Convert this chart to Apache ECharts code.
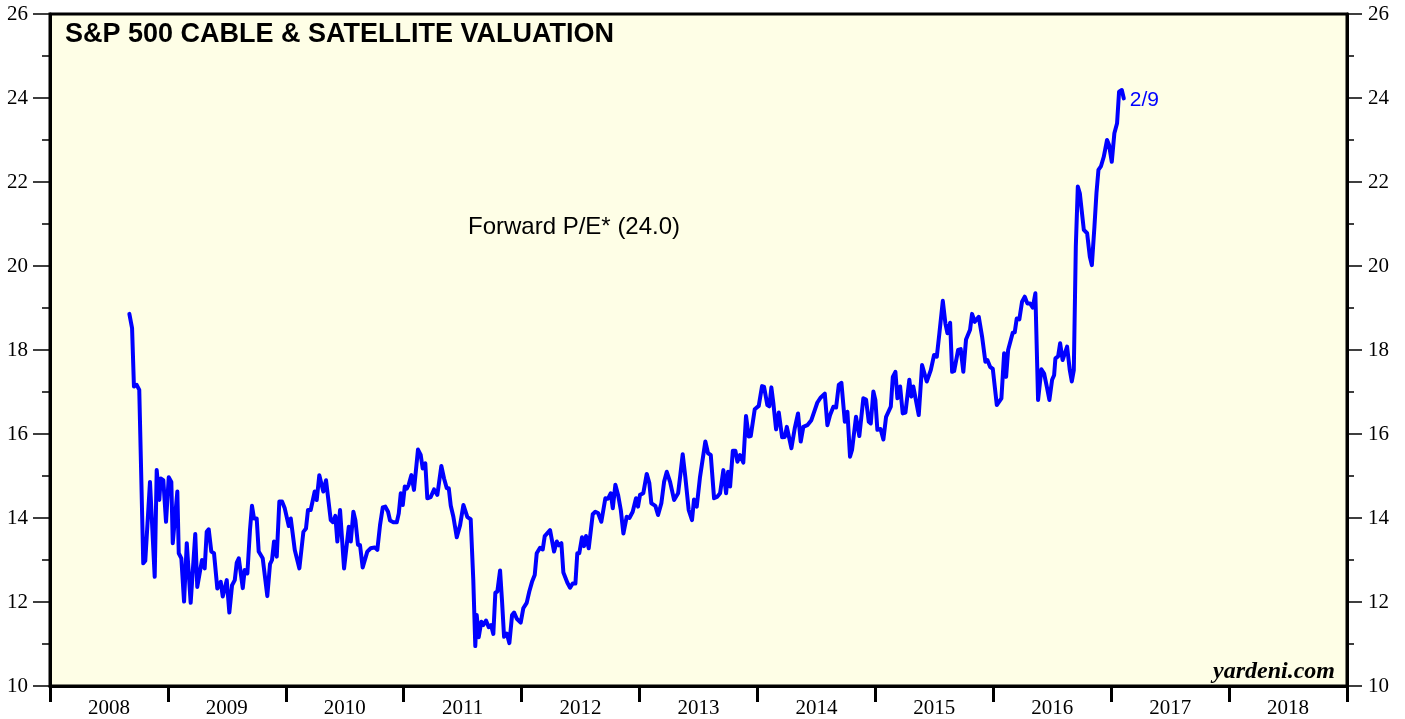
<!DOCTYPE html>
<html>
<head>
<meta charset="utf-8">
<script src="https://cdn.jsdelivr.net/npm/echarts@6/dist/echarts.min.js"></script>
<style>
html,body{margin:0;padding:0;background:#ffffff;}
#chart{width:1405px;height:719px;}
</style>
</head>
<body>
<div id="chart"></div>
<script>
var dates = [
2008.673,2008.696,2008.712,2008.735,2008.757,2008.791,2008.808,2008.848,2008.888,2008.905,
2008.927,2008.939,2008.961,2008.984,2009.007,2009.029,2009.041,2009.080,2009.092,2009.114,
2009.137,2009.160,2009.193,2009.232,2009.249,2009.289,2009.312,2009.329,2009.346,2009.368,
2009.391,2009.419,2009.448,2009.465,2009.499,2009.521,2009.544,2009.567,2009.584,2009.601,
2009.635,2009.651,2009.674,2009.696,2009.713,2009.730,2009.753,2009.770,2009.804,2009.843,
2009.866,2009.883,2009.900,2009.923,2009.945,2009.968,2009.991,2010.025,2010.042,2010.076,
2010.115,2010.149,2010.171,2010.188,2010.211,2010.245,2010.262,2010.284,2010.318,2010.341,
2010.381,2010.400,2010.420,2010.437,2010.460,2010.494,2010.534,2010.551,2010.573,2010.590,
2010.612,2010.629,2010.652,2010.691,2010.720,2010.754,2010.776,2010.799,2010.822,2010.844,
2010.867,2010.884,2010.912,2010.941,2010.958,2010.975,2010.992,2011.009,2011.026,2011.042,
2011.065,2011.087,2011.121,2011.144,2011.161,2011.183,2011.200,2011.229,2011.257,2011.285,
2011.319,2011.342,2011.365,2011.382,2011.399,2011.421,2011.450,2011.478,2011.506,2011.540,
2011.568,2011.590,2011.607,2011.619,2011.636,2011.658,2011.675,2011.698,2011.721,2011.740,
2011.760,2011.777,2011.794,2011.817,2011.834,2011.851,2011.874,2011.896,2011.919,2011.936,
2011.959,2011.992,2012.014,2012.043,2012.065,2012.088,2012.111,2012.128,2012.156,2012.179,
2012.196,2012.241,2012.275,2012.298,2012.315,2012.337,2012.354,2012.388,2012.411,2012.433,
2012.456,2012.472,2012.489,2012.512,2012.529,2012.546,2012.569,2012.603,2012.625,2012.648,
2012.676,2012.710,2012.733,2012.756,2012.773,2012.795,2012.818,2012.841,2012.863,2012.891,
2012.914,2012.942,2012.970,2012.987,2013.004,2013.032,2013.061,2013.083,2013.100,2013.134,
2013.157,2013.185,2013.208,2013.231,2013.259,2013.293,2013.327,2013.344,2013.366,2013.388,
2013.417,2013.445,2013.462,2013.485,2013.513,2013.558,2013.581,2013.604,2013.632,2013.657,
2013.683,2013.711,2013.734,2013.751,2013.768,2013.791,2013.813,2013.830,2013.852,2013.880,
2013.903,2013.926,2013.943,2013.977,2014.011,2014.039,2014.056,2014.084,2014.101,2014.118,
2014.135,2014.158,2014.181,2014.209,2014.232,2014.249,2014.288,2014.316,2014.344,2014.367,
2014.389,2014.423,2014.457,2014.486,2014.508,2014.537,2014.571,2014.593,2014.616,2014.644,
2014.667,2014.690,2014.712,2014.741,2014.763,2014.785,2014.802,2014.836,2014.864,2014.898,
2014.921,2014.944,2014.961,2014.983,2015.000,2015.017,2015.044,2015.068,2015.091,2015.131,
2015.148,2015.170,2015.187,2015.210,2015.232,2015.255,2015.288,2015.305,2015.322,2015.368,
2015.396,2015.436,2015.470,2015.498,2015.521,2015.543,2015.572,2015.594,2015.611,2015.634,
2015.651,2015.668,2015.702,2015.724,2015.746,2015.769,2015.803,2015.820,2015.843,2015.877,
2015.905,2015.933,2015.950,2015.973,2015.996,2016.030,2016.069,2016.092,2016.109,2016.126,
2016.165,2016.182,2016.199,2016.221,2016.244,2016.267,2016.289,2016.312,2016.335,2016.357,
2016.380,2016.408,2016.431,2016.454,2016.476,2016.499,2016.516,2016.527,2016.550,2016.567,
2016.588,2016.626,2016.649,2016.666,2016.683,2016.700,2016.717,2016.734,2016.768,2016.796,
2016.819,2016.836,2016.858,2016.875,2016.892,2016.914,2016.937,2016.965,2016.982,2017.005,
2017.027,2017.050,2017.067,2017.090,2017.107
];
// Forward P/E values
var forwardPE = [
18.86,18.52,17.13,17.17,17.05,12.92,12.98,14.86,12.60,15.14,
14.43,14.94,14.90,13.91,14.97,14.86,13.40,14.63,13.16,13.04,
12.01,13.40,11.98,13.62,12.36,13.00,12.80,13.67,13.73,13.20,
13.16,12.32,12.48,12.13,12.52,11.75,12.40,12.52,12.94,13.04,
12.33,12.76,12.68,13.71,14.29,13.99,13.99,13.20,13.04,12.14,
12.90,13.00,13.44,13.08,14.39,14.39,14.23,13.81,13.99,13.24,
12.80,13.67,13.75,14.19,14.19,14.63,14.43,15.02,14.63,14.90,
13.95,13.90,14.05,13.44,14.19,12.80,13.79,13.44,14.15,13.95,
13.36,13.36,12.82,13.20,13.28,13.30,13.24,13.83,14.25,14.27,
14.15,13.94,13.90,13.90,14.11,14.59,14.31,14.75,14.70,14.79,
15.02,14.67,15.63,15.50,15.18,15.30,14.47,14.50,14.68,14.55,
15.24,14.94,14.71,14.71,14.29,14.03,13.54,13.83,14.31,14.02,
13.97,12.52,10.95,11.69,11.16,11.53,11.45,11.56,11.40,11.45,
11.24,12.22,12.25,12.75,12.01,11.17,11.25,11.02,11.69,11.75,
11.60,11.51,11.85,11.98,12.25,12.48,12.64,13.16,13.29,13.25,
13.57,13.71,13.20,13.44,13.35,13.40,12.70,12.46,12.34,12.44,
12.44,13.16,13.16,13.54,13.33,13.57,13.28,14.09,14.15,14.12,
13.91,14.47,14.46,14.59,14.23,14.79,14.55,14.19,13.63,14.03,
14.00,14.15,14.47,14.27,14.55,14.59,15.05,14.83,14.35,14.29,
14.07,14.35,14.86,15.10,14.86,14.43,14.59,14.98,15.52,14.98,
14.19,13.95,14.44,14.27,14.98,15.82,15.54,15.50,14.47,14.50,
14.59,15.14,14.59,15.10,14.75,15.60,15.60,15.34,15.50,15.32,
16.43,15.94,15.95,16.59,16.67,17.14,17.12,16.69,16.66,17.11,
16.73,16.11,16.51,15.92,15.93,16.17,15.66,16.13,16.49,15.82,
16.17,16.21,16.33,16.57,16.75,16.87,16.96,16.21,16.45,16.65,
16.63,17.17,17.22,16.29,16.53,15.46,15.62,16.41,15.95,16.85,
16.82,16.29,16.25,17.01,16.81,16.10,16.12,15.87,16.41,16.65,
17.36,17.48,16.85,17.13,16.49,16.51,17.29,16.89,17.13,16.45,
17.64,17.25,17.52,17.88,17.84,18.40,19.17,18.63,18.40,18.65,
17.48,17.50,18.00,18.02,17.48,18.25,18.48,18.86,18.67,18.79,
18.32,17.72,17.76,17.60,17.55,16.69,16.85,17.92,17.36,18.00,
18.41,18.42,18.75,18.73,19.15,19.27,19.11,19.11,19.01,19.35,
16.81,17.54,17.44,17.13,16.81,17.29,17.40,17.80,17.85,18.16,
17.76,18.08,17.52,17.25,17.52,20.46,21.89,21.73,20.86,20.78,
20.22,20.02,20.94,21.73,22.29,22.38,22.60,23.00,22.88,22.48,
23.16,23.40,24.15,24.19,23.99
];
var yearLabels = ['2008','2009','2010','2011','2012','2013','2014','2015','2016','2017','2018'];
var yTicks = { min: 10, max: 26, step: 2 };
var chartTitle = 'S&P 500 CABLE & SATELLITE VALUATION';
var seriesLabel = 'Forward P/E* (24.0)';
var lastLabel = '2/9';
var sourceLabel = 'yardeni.com';

var seriesData = dates.map(function (d, i) { return [d, forwardPE[i]]; });

var chart = echarts.init(document.getElementById('chart'), null, { renderer: 'canvas' });
var serif = '"Liberation Serif", "Times New Roman", serif';
var sans = '"Liberation Sans", Arial, Helvetica, sans-serif';

function yAxisDef(pos, tickLen, minorLen, margin) {
  return {
    type: 'value',
    position: pos,
    min: yTicks.min,
    max: yTicks.max,
    interval: yTicks.step,
    axisLine: { show: true, lineStyle: { color: '#000', width: 3 } },
    axisTick: { show: true, inside: false, length: tickLen, lineStyle: { color: '#000', width: 1.5 } },
    minorTick: { show: true, splitNumber: 2, length: minorLen, lineStyle: { color: '#000', width: 1.5 } },
    splitLine: { show: false },
    minorSplitLine: { show: false },
    axisLabel: { show: true, color: '#000', fontFamily: serif, fontSize: 21, margin: margin }
  };
}

var option = {
  animation: false,
  backgroundColor: '#ffffff',
  grid: {
    left: 50, right: 58, top: 14, bottom: 33,
    show: true,
    backgroundColor: '#fefee6',
    borderColor: '#000',
    borderWidth: 3
  },
  xAxis: [
    {
      type: 'value',
      min: 2008,
      max: 2019,
      show: false
    },
    {
      type: 'category',
      position: 'bottom',
      data: yearLabels,
      boundaryGap: true,
      axisLine: { show: true, lineStyle: { color: '#000', width: 3 } },
      axisTick: { show: true, inside: false, length: 16, alignWithLabel: false, interval: 0, lineStyle: { color: '#000', width: 3 } },
      axisLabel: { show: true, color: '#000', fontFamily: serif, fontSize: 21, margin: 12, interval: 0 },
      splitLine: { show: false }
    }
  ],
  yAxis: [
    yAxisDef('left', 17, 8, 22),
    yAxisDef('right', 15, 7, 21)
  ],
  series: [
    {
      type: 'line',
      xAxisIndex: 0,
      yAxisIndex: 0,
      data: seriesData,
      showSymbol: false,
      symbol: 'none',
      smooth: false,
      lineStyle: { color: '#0000ff', width: 4, join: 'round', cap: 'round' },
      itemStyle: { color: '#0000ff' },
      endLabel: {
        show: true,
        formatter: lastLabel,
        color: '#0000ff',
        fontFamily: sans,
        fontSize: 21,
        distance: 6,
        offset: [0, 2]
      },
      z: 5
    }
  ],
  graphic: [
    {
      type: 'text',
      x: 65, y: 35,
      style: { text: chartTitle, fill: '#000', font: 'bold 27px ' + sans, align: 'left', verticalAlign: 'middle' },
      z: 10
    },
    {
      type: 'text',
      x: 468, y: 227,
      style: { text: seriesLabel, fill: '#000', font: '24px ' + sans, align: 'left', verticalAlign: 'middle' },
      z: 10
    },
    {
      type: 'text',
      x: 1335, y: 672,
      style: { text: sourceLabel, fill: '#000', font: 'italic bold 24px ' + serif, align: 'right', verticalAlign: 'middle' },
      z: 10
    }
  ]
};
chart.setOption(option);
</script>
</body>
</html>
